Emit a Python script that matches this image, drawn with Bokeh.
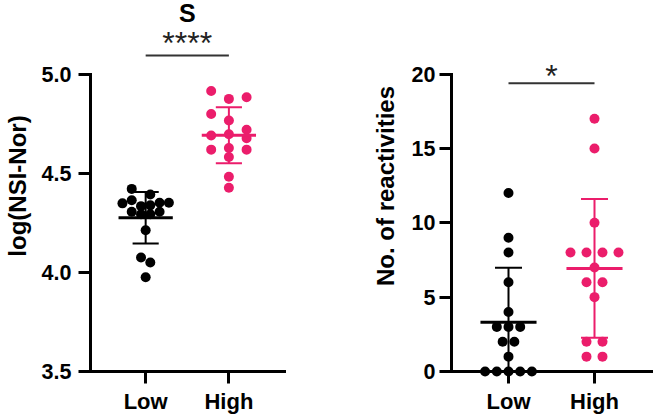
import numpy as np
from bokeh.plotting import figure
from bokeh.layouts import row
from bokeh.models import Range1d, FixedTicker, NumeralTickFormatter
from bokeh.core.properties import value
from bokeh.embed import file_html
from bokeh.resources import INLINE

# ---------------- data ----------------
categories = ["Low", "High"]

nsi_low = [4.421, 4.393, 4.348, 4.364, 4.334, 4.338, 4.351, 4.351,
           4.306, 4.293, 4.293, 4.306, 4.212, 4.075, 4.050, 3.975]
nsi_high = [4.915, 4.875, 4.883, 4.799, 4.766, 4.690, 4.697, 4.719,
            4.677, 4.619, 4.627, 4.619, 4.582, 4.482, 4.427]

react_low = [0, 0, 0, 0, 0, 1, 2, 2, 3, 3, 3, 4, 6, 8, 9, 12]
react_high = [1, 1, 2, 2, 5, 6, 6, 7, 8, 8, 8, 8, 10, 15, 17]

nsi_ticks = [3.5, 4.0, 4.5, 5.0]
react_ticks = [0, 5, 10, 15, 20]

panel_title = "S"
nsi_label = "log(NSI-Nor)"
react_label = "No. of reactivities"
sig_nsi = "****"
sig_react = "*"

# horizontal spread of the dots (in "slots"), layout only
nsi_low_slot = [-1.5, 0.5, -2.5, -1.5, -0.5, 0.5, 1.5, 2.5, -1.5, -0.5, 0.5, 1.5, 0, -0.5, 0.5, 0]
nsi_high_slot = [-1, 0, 1, -1, 0, -1, 0, 1, 1, -1, 0, 1, 0, 0, 0]
react_low_slot = [-2, -1, 0, 1, 2, 0, -0.5, 0.5, -1, 0, 1, 0, 0, 0, 0, 0]
react_high_slot = [-0.5, 0.5, -0.5, 0.5, 0, -0.5, 0.5, 0, -1.5, -0.5, 0.5, 1.5, 0, 0, 0]

# ---------------- style ----------------
BLACK = "#000000"
PINK = "#EB1D6B"
FONT = value("Liberation Sans")
PXU = 86.0  # pixels per category unit
H = 416
BOTTOM = 43


def make_panel(width, min_left, x_start, axis_x_end, y_start, y_end, y_bounds, ticks,
               fmt, ylab, tick_std, lab_std, groups):
    frame_w = width - min_left
    p = figure(width=width, height=H,
               x_range=Range1d(x_start, x_start + frame_w / PXU),
               y_range=Range1d(y_start, y_end),
               output_backend="svg", toolbar_location=None,
               min_border_left=min_left, min_border_right=0,
               min_border_top=0, min_border_bottom=BOTTOM)
    p.grid.visible = False
    p.outline_line_color = None
    p.background_fill_color = "white"
    p.border_fill_color = "white"

    for ax in (p.xaxis[0], p.yaxis[0]):
        ax.axis_line_width = 3
        ax.axis_line_color = BLACK
        ax.axis_line_cap = "square"
        ax.major_tick_line_width = 3
        ax.major_tick_line_color = BLACK
        ax.major_tick_out = 12
        ax.major_tick_in = 0
        ax.minor_tick_line_color = None
        ax.major_label_text_font = "Liberation Sans"
        ax.major_label_text_font_style = "bold"
        ax.major_label_text_color = BLACK

    xa = p.xaxis[0]
    xa.ticker = FixedTicker(ticks=[1, 2])
    xa.major_label_overrides = {i + 1: c for i, c in enumerate(categories)}
    xa.major_label_text_font_size = "22px"
    xa.major_label_standoff = 5
    xa.bounds = (x_start, axis_x_end)

    ya = p.yaxis[0]
    ya.ticker = FixedTicker(ticks=ticks)
    ya.formatter = NumeralTickFormatter(format=fmt)
    ya.bounds = y_bounds
    ya.major_label_text_font_size = "21.5px"
    ya.major_label_standoff = tick_std
    ya.axis_label = ylab
    ya.axis_label_text_font = "Liberation Sans"
    ya.axis_label_text_font_style = "bold"
    ya.axis_label_text_font_size = "24px"
    ya.axis_label_text_color = BLACK
    ya.axis_label_standoff = lab_std

    for xc, vals, slots, slot_w, col in groups:
        v = np.array(vals, dtype=float)
        xs = xc + np.array(slots) * slot_w
        m = v.mean()
        sd = v.std(ddof=1)
        # error bar (mean +/- SD)
        p.segment(x0=[xc], y0=[m - sd], x1=[xc], y1=[m + sd], line_color=col, line_width=2)
        p.segment(x0=[xc - 0.157, xc - 0.157], y0=[m - sd, m + sd],
                  x1=[xc + 0.157, xc + 0.157], y1=[m - sd, m + sd],
                  line_color=col, line_width=2)
        p.scatter(x=xs, y=v, size=10, fill_color=col, line_color=None, level="overlay")
        p.segment(x0=[xc - 0.326], y0=[m], x1=[xc + 0.326], y1=[m], line_color=col, line_width=3,
                  level="overlay")
    return p


# ---------------- left panel ----------------
p1 = make_panel(width=330, min_left=82, x_start=0.3372, axis_x_end=2.674,
                y_start=3.5, y_end=5.3712, y_bounds=(3.5, 5.0), ticks=nsi_ticks,
                fmt="0.0", ylab=nsi_label, tick_std=7, lab_std=8,
                groups=[(1, nsi_low, nsi_low_slot, 0.1116, BLACK),
                        (2, nsi_high, nsi_high_slot, 0.2128, PINK)])
p1.segment(x0=[1], y0=[5.0938], x1=[2], y1=[5.0938], line_color="#333333", line_width=2)
p1.text(x=[1.5], y=[5.156], text=[sig_nsi], text_font=FONT, text_font_size="32px",
        text_align="center", text_baseline="alphabetic", text_color="#222222", level="overlay")
p1.text(x=[1.5], y=[5.309], text=[panel_title], text_font=FONT, text_font_size="25px",
        text_font_style="bold", text_align="center", text_baseline="alphabetic",
        text_color=BLACK, level="overlay")

# ---------------- right panel ----------------
p2 = make_panel(width=323, min_left=121, x_start=0.3372, axis_x_end=2.686,
                y_start=0, y_end=24.95, y_bounds=(0, 20), ticks=react_ticks,
                fmt="0", ylab=react_label, tick_std=4, lab_std=10,
                groups=[(1, react_low, react_low_slot, 0.136, BLACK),
                        (2, react_high, react_high_slot, 0.186, PINK)])
p2.segment(x0=[1], y0=[19.378], x1=[2], y1=[19.378], line_color="#333333", line_width=2)
p2.text(x=[1.5], y=[19.88], text=[sig_react], text_font=FONT, text_font_size="32px",
        text_align="center", text_baseline="alphabetic", text_color="#222222", level="overlay")

layout = row(p1, p2, spacing=0)
open("out.html", "w").write(file_html(layout, INLINE))
